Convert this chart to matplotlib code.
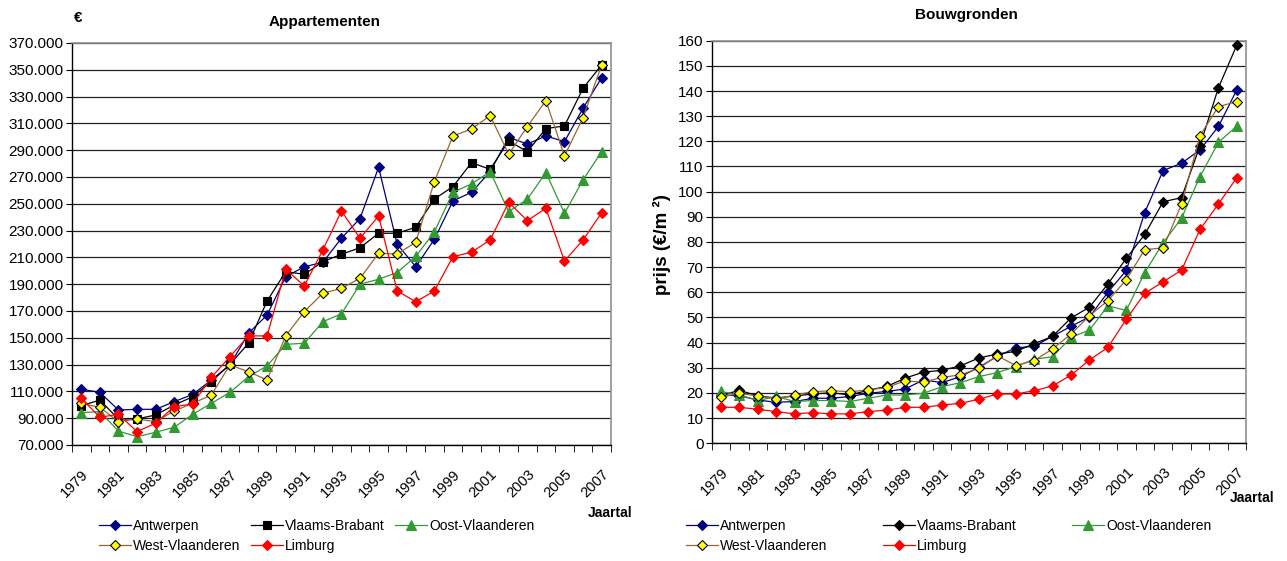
import numpy as np
import matplotlib
matplotlib.use("Agg")
import matplotlib.pyplot as plt
from matplotlib.ticker import FuncFormatter, FixedLocator, MultipleLocator

plt.rcParams['font.family'] = ['Liberation Sans', 'DejaVu Sans']

years = list(range(1979, 2008))
regions = ['Antwerpen', 'Vlaams-Brabant', 'Oost-Vlaanderen', 'West-Vlaanderen', 'Limburg']

# Appartementen (euro)
app_antwerpen = [111600, 109300, 96100, 96600, 96600, 102300, 107800, 118500, 129700, 153400,
                 167000, 195600, 203000, 206300, 224300, 239000, 277200, 219800, 203000, 223500,
                 252100, 258600, 274000, 299600, 294600, 300600, 296400, 321300, 344100]
app_vlbrabant = [99300, 103500, 89400, 89400, 92400, 99800, 106000, 117300, 130200, 145900,
                 177500, 199300, 197400, 206800, 212300, 217200, 228000, 228000, 232500, 253600,
                 262800, 280700, 275700, 296900, 288900, 306100, 308100, 336200, 353600]
app_oostvl = [94100, 94900, 80400, 76200, 79500, 83200, 92900, 101100, 109300, 121000,
              129000, 145100, 145900, 162000, 167900, 190000, 193700, 198700, 210800, 229000,
              258600, 264800, 274000, 244200, 253400, 273300, 242900, 267800, 288900]
app_westvl = [101100, 98100, 87400, 89400, 87400, 95400, 101100, 107300, 129700, 124700,
              118500, 151400, 169500, 183200, 186900, 194400, 213000, 212500, 221300, 266500,
              300600, 305800, 315800, 287000, 307600, 327000, 285700, 314300, 353600]
app_limburg = [104900, 90700, 92900, 80000, 86200, 98600, 100600, 120500, 135900, 151400,
               151400, 201100, 188700, 215500, 244600, 224300, 240900, 184900, 176900, 184900,
               210600, 213800, 223000, 251100, 237400, 246600, 207300, 223000, 243300]

# Bouwgronden (euro/m2)
bg_antwerpen = [19.2, 18.9, 17.2, 16.3, 16.6, 17.9, 17.9, 18.6, 19.9, 20.6,
                21.6, 25.2, 24.1, 26.5, 30.2, 34.6, 37.9, 38.6, 42.5, 46.5,
                50.2, 60.0, 68.7, 91.7, 108.4, 111.3, 116.6, 125.9, 140.5]
bg_vlbrabant = [18.9, 21.1, 18.8, 18.0, 18.8, 19.6, 20.1, 19.2, 21.1, 22.6,
                25.9, 28.3, 29.0, 30.8, 33.9, 35.5, 36.5, 39.6, 42.5, 49.8,
                54.1, 63.3, 73.5, 83.0, 96.0, 97.6, 118.3, 141.3, 158.3]
bg_oostvl = [20.6, 19.2, 17.0, 18.6, 16.6, 17.0, 17.0, 16.6, 17.9, 19.2,
             19.2, 19.9, 22.5, 24.1, 26.5, 28.1, 30.5, 33.4, 34.4, 42.1,
             45.0, 54.6, 52.8, 67.8, 79.7, 89.5, 106.0, 119.6, 126.1]
bg_westvl = [18.3, 19.9, 18.8, 17.6, 19.2, 20.5, 20.9, 20.5, 21.2, 22.2,
             24.8, 24.3, 26.2, 27.2, 29.8, 34.8, 30.9, 32.9, 37.5, 43.4,
             50.7, 56.7, 65.0, 77.0, 77.6, 95.1, 122.3, 133.8, 135.8]
bg_limburg = [14.3, 14.3, 13.5, 12.6, 11.7, 12.2, 11.7, 11.7, 12.6, 13.2,
              14.3, 14.3, 15.2, 15.9, 17.5, 19.6, 19.6, 20.9, 22.8, 27.1,
              33.1, 38.1, 49.3, 59.6, 64.2, 68.8, 85.0, 95.1, 105.6]

line_colors = ['#000080', '#000000', '#339933', '#996633', '#FF0000']
face_colors = ['#000080', '#000000', '#339933', '#FFFF00', '#FF0000']
edge_colors = ['#000080', '#000000', '#339933', '#000000', '#FF0000']
markers_left = ['D', 's', '^', 'D', 'D']
markers_right = ['D', 'D', '^', 'D', 'D']
msizes = {'D': 5, 's': 5.5, '^': 6.5}

fig = plt.figure(figsize=(12.87, 5.61), dpi=100)
ax1 = fig.add_axes([0.0559, 0.2068, 0.4188, 0.7166])
ax2 = fig.add_axes([0.553, 0.2098, 0.4152, 0.7177])

x = np.arange(len(years))


def style_axis(ax):
    ax.set_xlim(-0.5, len(years) - 0.5)
    ax.set_xticks(x[::2])
    ax.set_xticklabels([str(y) for y in years[::2]], rotation=45, ha='right', va='top',
                       rotation_mode='anchor', fontsize=10.5)
    ax.set_xticks(np.arange(-0.5, len(years), 1.0), minor=True)
    ax.tick_params(axis='x', which='major', length=0, pad=16)
    ax.tick_params(axis='x', which='minor', length=5, direction='out', color='black')
    ax.tick_params(axis='y', which='major', length=4, direction='out', labelsize=11, pad=2)
    ax.yaxis.grid(True, color='#202020', linewidth=0.9)
    ax.set_axisbelow(True)
    for s in ['top', 'right']:
        ax.spines[s].set_color('#909090')
        ax.spines[s].set_linewidth(1.2)
    for s in ['left', 'bottom']:
        ax.spines[s].set_color('black')
        ax.spines[s].set_linewidth(1.0)


def draw(ax, series, markers):
    handles = []
    for i, vals in enumerate(series):
        h, = ax.plot(x, vals, color=line_colors[i], linewidth=0.9, marker=markers[i],
                     markersize=msizes[markers[i]], markerfacecolor=face_colors[i],
                     markeredgecolor=edge_colors[i], markeredgewidth=0.8,
                     label=regions[i], clip_on=False, zorder=3)
        handles.append(h)
    return handles


h1 = draw(ax1, [app_antwerpen, app_vlbrabant, app_oostvl, app_westvl, app_limburg], markers_left)
style_axis(ax1)
ax1.set_ylim(70000, 370000)
ax1.yaxis.set_major_locator(FixedLocator(np.arange(70000, 370001, 20000)))
ax1.yaxis.set_major_formatter(FuncFormatter(lambda v, p: f"{int(v):,}".replace(',', '.')))

h2 = draw(ax2, [bg_antwerpen, bg_vlbrabant, bg_oostvl, bg_westvl, bg_limburg], markers_right)
style_axis(ax2)
ax2.set_ylim(0, 160)
ax2.yaxis.set_major_locator(MultipleLocator(10))

fig.text(0.2525, 0.961, 'Appartementen', ha='center', va='center', fontsize=11, fontweight='bold')
fig.text(0.0606, 0.968, '€', ha='center', va='center', fontsize=11, fontweight='bold')
fig.text(0.474, 0.0856, 'Jaartal', ha='center', va='center', fontsize=10, fontweight='bold')
fig.text(0.7506, 0.973, 'Bouwgronden', ha='center', va='center', fontsize=11, fontweight='bold')
fig.text(0.973, 0.112, 'Jaartal', ha='center', va='center', fontsize=10, fontweight='bold')
fig.text(0.5144, 0.5633, 'prijs (€/m ²)', ha='center', va='center', rotation=90,
         fontsize=13.5, fontweight='bold')

order = [0, 3, 1, 4, 2]
fig.legend([h1[i] for i in order], [regions[i] for i in order], ncol=3, loc='upper left',
           bbox_to_anchor=(99 / 1287, 1 - 519 / 561), frameon=False, fontsize=10,
           handlelength=2.3, handletextpad=0.15, columnspacing=0.75, labelspacing=0.4,
           borderpad=0, borderaxespad=0)
fig.legend([h2[i] for i in order], [regions[i] for i in order], ncol=3, loc='upper left',
           bbox_to_anchor=(686 / 1287, 1 - 519 / 561), frameon=False, fontsize=10,
           handlelength=2.3, handletextpad=0.15, columnspacing=4.0, labelspacing=0.4,
           borderpad=0, borderaxespad=0)

fig.savefig('out.png', dpi=100)
